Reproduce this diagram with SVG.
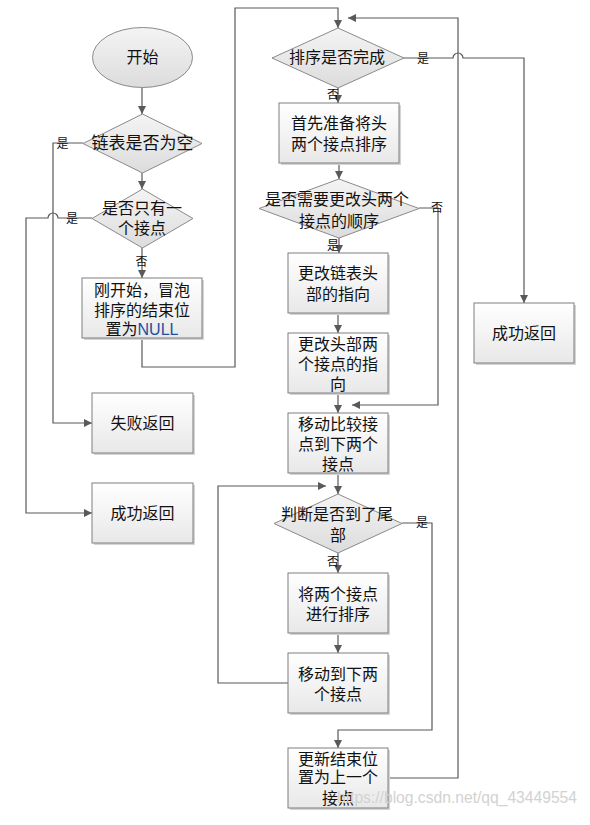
<svg xmlns="http://www.w3.org/2000/svg" width="590" height="825" viewBox="0 0 590 825">
<style>
  .box { fill: url(#gBox); stroke: #7f7f7f; stroke-width: 1; }
  .shadow { fill: #d4d4d4; }
  .dia { fill: url(#gDia); stroke: #8a8a8a; stroke-width: 1; }
  .t { font-family: "Noto Sans CJK SC", "Liberation Sans", sans-serif; font-size: 16px; fill: #111; text-anchor: middle; }
  .lbl { font-family: "Noto Sans CJK SC", "Liberation Sans", sans-serif; font-size: 12px; fill: #111; text-anchor: middle; }
  .c { fill: none; stroke: #595959; stroke-width: 1.2; }
  .ca { fill: none; stroke: #595959; stroke-width: 1.2; marker-end: url(#arr); }
</style>
<defs>
  <linearGradient id="gBox" x1="0" y1="0" x2="0" y2="1">
    <stop offset="0" stop-color="#ffffff"/>
    <stop offset="1" stop-color="#e8e8e8"/>
  </linearGradient>
  <linearGradient id="gDia" x1="0" y1="0" x2="0" y2="1">
    <stop offset="0" stop-color="#f4f4f4"/>
    <stop offset="1" stop-color="#dcdcdc"/>
  </linearGradient>
  <marker id="arr" markerUnits="userSpaceOnUse" markerWidth="9" markerHeight="8" refX="8" refY="4" orient="auto">
    <path d="M0,0 L8,4 L0,8 z" fill="#595959"/>
  </marker>
</defs>
<rect width="590" height="825" fill="#ffffff"/>

<g id="connectors">
  <path class="ca" d="M142,87 V114"/>
  <path class="ca" d="M142,173 V189"/>
  <path class="ca" d="M83,143 H53 V423 H92"/>
  <path class="ca" d="M92,218 H58 a5,5 0 0 0 -10,0 H26 V513 H92"/>
  <path class="ca" d="M142,248 V278"/>
  <path class="ca" d="M142,338 V367 H235 V8 H338 V28"/>
  <path class="ca" d="M404,58 H453 a5,5 0 0 1 10,0 H524 V303"/>
  <path class="ca" d="M338,88 V103"/>
  <path class="ca" d="M339,163 V179"/>
  <path class="ca" d="M339,238 V253"/>
  <path class="ca" d="M338,313 V333"/>
  <path class="ca" d="M338,393 V413"/>
  <path class="ca" d="M419,208 H438 V405 H352"/>
  <path class="ca" d="M338,473 V494"/>
  <path class="ca" d="M338,553 V573"/>
  <path class="ca" d="M338,633 V653"/>
  <path class="ca" d="M288,683 H218 V486 H326"/>
  <path class="ca" d="M402,523 H432 V730 H338 V748"/>
  <path class="ca" d="M388,778 H458 V18 H348"/>
  <text class="lbl" x="62.5" y="148">是</text>
  <text class="lbl" x="72" y="223">是</text>
  <text class="lbl" x="141.5" y="266">否</text>
  <text class="lbl" x="333" y="99">否</text>
  <text class="lbl" x="423" y="63">是</text>
  <text class="lbl" x="437" y="212">否</text>
  <text class="lbl" x="333" y="250">是</text>
  <text class="lbl" x="422" y="527">是</text>
  <text class="lbl" x="333" y="566">否</text>
</g>

<g id="start">
  <ellipse cx="142.5" cy="57.5" rx="50" ry="30" class="dia"/>
  <text class="t" x="142.5" y="63">开始</text>
</g>

<g id="isEmpty">
  <polygon class="dia" points="142.5,114 202,143.5 142.5,173 83,143.5"/>
  <text class="t" x="142.5" y="149" style="font-size:17px">链表是否为空</text>
</g>

<g id="onlyOne">
  <polygon class="dia" points="142.5,189 193,218.5 142.5,248 92,218.5"/>
  <text class="t" x="142" y="213.5">是否只有一</text>
  <text class="t" x="142" y="233.5">个接点</text>
</g>

<g id="initEnd">
  <rect class="shadow" x="84" y="280" width="120" height="60"/>
  <rect class="box" x="82" y="278" width="120" height="60"/>
  <text class="t" x="142" y="296">刚开始，冒泡</text>
  <text class="t" x="142" y="316">排序的结束位</text>
  <text class="t" x="142" y="335">置为<tspan fill="#1f4f9f" font-family="Liberation Sans, sans-serif">NULL</tspan></text>
</g>

<g id="failReturn">
  <rect class="shadow" x="94" y="395" width="101" height="60"/>
  <rect class="box" x="92" y="393" width="101" height="60"/>
  <text class="t" x="142.5" y="429">失败返回</text>
</g>

<g id="successReturnLeft">
  <rect class="shadow" x="94" y="485" width="101" height="60"/>
  <rect class="box" x="92" y="483" width="101" height="60"/>
  <text class="t" x="142.5" y="519">成功返回</text>
</g>

<g id="sortDone">
  <polygon class="dia" points="338,28 404,58 338,88 272,58"/>
  <text class="t" x="337" y="63">排序是否完成</text>
</g>

<g id="successReturnRight">
  <rect class="shadow" x="476" y="305" width="100" height="60"/>
  <rect class="box" x="474" y="303" width="100" height="60"/>
  <text class="t" x="524" y="339">成功返回</text>
</g>

<g id="prepHead">
  <rect class="shadow" x="281" y="105" width="120" height="60"/>
  <rect class="box" x="279" y="103" width="120" height="60"/>
  <text class="t" x="339" y="129">首先准备将头</text>
  <text class="t" x="339" y="150">两个接点排序</text>
</g>

<g id="needSwap">
  <polygon class="dia" points="339,179 419,208.5 339,238 259,208.5"/>
  <text class="t" x="337" y="205">是否需要更改头两个</text>
  <text class="t" x="339" y="227">接点的顺序</text>
</g>

<g id="changeHead">
  <rect class="shadow" x="290" y="255" width="100" height="60"/>
  <rect class="box" x="288" y="253" width="100" height="60"/>
  <text class="t" x="338" y="278.5">更改链表头</text>
  <text class="t" x="338" y="300">部的指向</text>
</g>

<g id="changeTwo">
  <rect class="shadow" x="290" y="335" width="100" height="60"/>
  <rect class="box" x="288" y="333" width="100" height="60"/>
  <text class="t" x="338" y="350">更改头部两</text>
  <text class="t" x="338" y="370">个接点的指</text>
  <text class="t" x="338" y="390">向</text>
</g>

<g id="moveCompare">
  <rect class="shadow" x="290" y="415" width="100" height="60"/>
  <rect class="box" x="288" y="413" width="100" height="60"/>
  <text class="t" x="338" y="430">移动比较接</text>
  <text class="t" x="338" y="450">点到下两个</text>
  <text class="t" x="338" y="470">接点</text>
</g>

<g id="atTail">
  <polygon class="dia" points="338,494 402,523.5 338,553 274,523.5"/>
  <text class="t" x="337" y="520">判断是否到了尾</text>
  <text class="t" x="338" y="541">部</text>
</g>

<g id="sortTwo">
  <rect class="shadow" x="290" y="575" width="100" height="60"/>
  <rect class="box" x="288" y="573" width="100" height="60"/>
  <text class="t" x="338" y="600">将两个接点</text>
  <text class="t" x="338" y="620">进行排序</text>
</g>

<g id="moveNext">
  <rect class="shadow" x="290" y="655" width="100" height="60"/>
  <rect class="box" x="288" y="653" width="100" height="60"/>
  <text class="t" x="338" y="680">移动到下两</text>
  <text class="t" x="338" y="700">个接点</text>
</g>

<g id="updateEnd">
  <rect class="shadow" x="290" y="750" width="100" height="60"/>
  <rect class="box" x="288" y="748" width="100" height="60"/>
  <text class="t" x="338" y="765">更新结束位</text>
  <text class="t" x="338" y="783">置为上一个</text>
  <text class="t" x="338" y="804">接点</text>
</g>

<text x="337" y="803" font-family="Liberation Sans, sans-serif" font-size="16" fill="#d2d2d2" textLength="240" lengthAdjust="spacingAndGlyphs">https://blog.csdn.net/qq_43449554</text>
</svg>
